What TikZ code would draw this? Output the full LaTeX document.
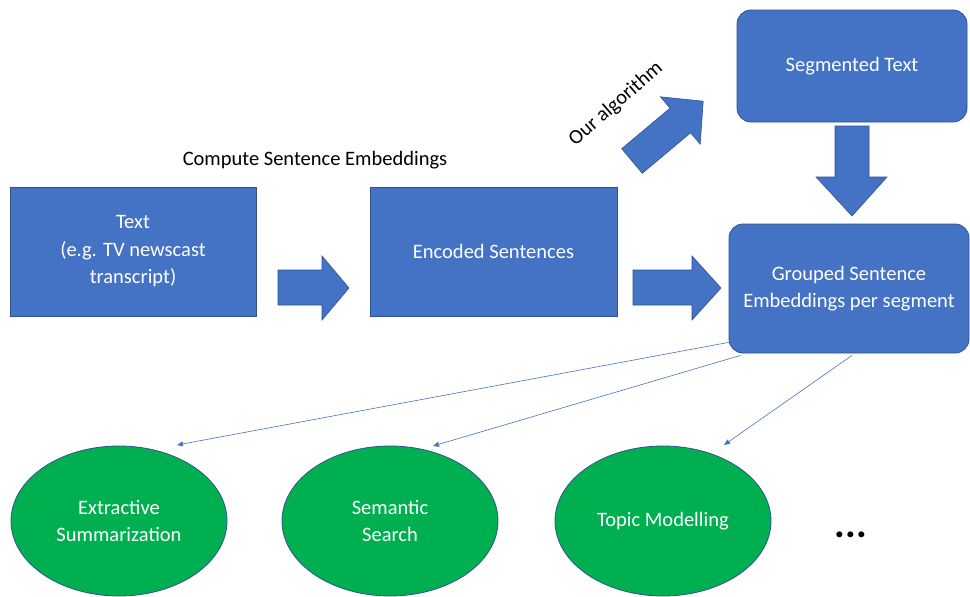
\documentclass[tikz,border=0pt]{standalone}
\usepackage{fontspec}
\setmainfont{Carlito}
\usetikzlibrary{shapes.geometric,arrows.meta}
\definecolor{boxblue}{HTML}{4472C4}
\definecolor{edgeblue}{HTML}{2F528F}
\definecolor{leafgreen}{HTML}{00B050}
\begin{document}
\begin{tikzpicture}[x=1pt,y=-1pt,
  label text/.style={font=\fontsize{20.5}{27.5}\selectfont},
  blockbox/.style={draw=edgeblue, line width=0.8pt, fill=boxblue, text=white,
    label text, align=center, inner sep=0pt},
  roundbox/.style={blockbox, rounded corners=14pt},
  leaf/.style={ellipse, draw=edgeblue, line width=0.8pt, fill=leafgreen, text=white,
    label text, align=center, minimum width=216pt, minimum height=150pt, inner sep=0pt},
  fatarrow/.style={fill=boxblue, draw=edgeblue, line width=0.6pt, line join=miter},
  thinarrow/.style={draw=boxblue, line width=0.6pt, -{Triangle[length=6pt,width=5pt]}}
]
\clip (0,0) rectangle (970,597);
\fill[white] (0,0) rectangle (970,597);

% main blocks
\node[blockbox, minimum width=246pt, minimum height=129pt] (txt) at (133,251.5)
  {Text\\(e.g. TV newscast\\transcript)};
\node[blockbox, minimum width=247pt, minimum height=129pt] (enc) at (493.5,251.5)
  {Encoded Sentences};
\node[roundbox, minimum width=230pt, minimum height=112pt] (seg) at (852,66)
  {Segmented Text};
\node[roundbox, minimum width=240pt, minimum height=129pt] (grp) at (849,288.5)
  {Grouped Sentence\\Embeddings per segment};

% captions
\node[label text, text=black] (cap) at (315,160) {Compute Sentence Embeddings};
\node[label text, text=black, rotate=41] (alg) at (616,104) {Our algorithm};

% block arrows
\draw[fatarrow] (278,270) -- (322,270) -- (322,256) -- (349,288) -- (322,320)
  -- (322,305) -- (278,305) -- cycle;
\draw[fatarrow] (633,270) -- (692,270) -- (692,256) -- (721,288) -- (692,320)
  -- (692,305) -- (633,305) -- cycle;
\draw[fatarrow] (835,126) -- (869,126) -- (869,177) -- (887,177) -- (852,216)
  -- (816,177) -- (835,177) -- cycle;
\draw[fatarrow] (621.7,148.7) -- (670.0,108.2) -- (660.4,96.8) -- (703.2,101.2)
  -- (700.2,144.2) -- (690.6,132.8) -- (642.3,173.3) -- cycle;

% applications
\node[leaf] (ext) at (119,521) {Extractive\\Summarization};
\node[leaf] (sem) at (390,521) {Semantic\\Search};
\node[leaf] (top) at (663,521) {Topic Modelling};
\node[font=\fontsize{40}{40}\selectfont\bfseries, anchor=base] (more) at (851,537) {...};

% links from the grouped embeddings to the applications
\coordinate (e1) at (177,445);
\coordinate (e2) at (433,446);
\coordinate (e3) at (724,445);
\draw[thinarrow] ([yshift=11pt]grp.south west) -- (e1);
\draw[thinarrow] ([xshift=12pt,yshift=-2pt]grp.south west) -- (e2);
\draw[thinarrow] ([xshift=3pt,yshift=-2pt]grp.south) -- (e3);
\end{tikzpicture}
\end{document}
